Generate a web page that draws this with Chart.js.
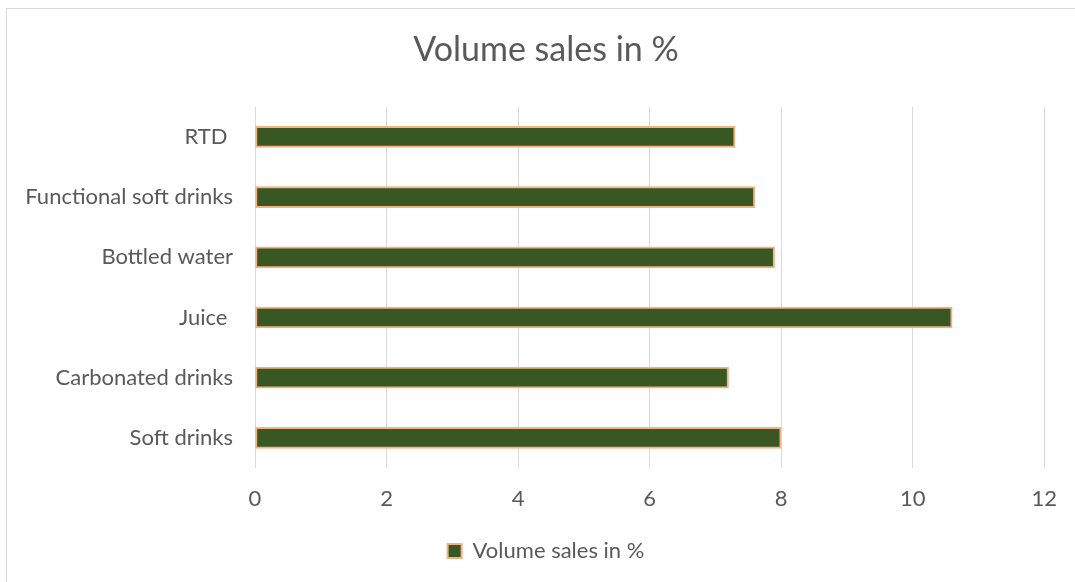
<!DOCTYPE html>
<html>
<head>
<meta charset="utf-8">
<script src="https://cdn.jsdelivr.net/npm/chart.js@4"></script>
<style>
  html, body { margin: 0; padding: 0; background: #fff; }
  #wrap { position: relative; width: 1075px; height: 582px; overflow: hidden; }
  #frame { position: absolute; left: 6px; top: 8px; width: 1200px; height: 700px; border: 1px solid #d9d9d9; box-sizing: border-box; }
  canvas { position: absolute; left: 0; top: 0; }
</style>
</head>
<body>
<div id="wrap">
  <div id="frame"></div>
  <canvas id="chart" width="1075" height="582"></canvas>
</div>
<script>
// Beverage categories, top to bottom
const categories = ['RTD ', 'Functional soft drinks', 'Bottled water', 'Juice ', 'Carbonated drinks', 'Soft drinks'];
// Volume sales share per category (%)
const volumeSales = [7.3, 7.6, 7.9, 10.6, 7.2, 8.0];
const seriesName = 'Volume sales in %';
const xTicks = [0, 2, 4, 6, 8, 10, 12];

const textColor = '#595959';
const gridColor = '#d9d9d9';
const fontFamily = 'Lato, Carlito, Calibri, sans-serif';

new Chart(document.getElementById('chart'), {
  type: 'bar',
  data: {
    labels: categories,
    datasets: [{
      label: seriesName,
      data: volumeSales,
      backgroundColor: '#385723',
      borderColor: '#f4b183',
      borderWidth: 2,
      borderSkipped: false,
      barThickness: 21
    }]
  },
  options: {
    indexAxis: 'y',
    responsive: false,
    animation: false,
    layout: { padding: { left: 45, right: 28, top: 0, bottom: 10 } },
    plugins: {
      title: {
        display: true,
        text: seriesName,
        color: textColor,
        font: { family: fontFamily, size: 34, weight: 'normal' },
        padding: { top: 30, bottom: 36 }
      },
      legend: {
        position: 'bottom',
        labels: {
          color: textColor,
          font: { family: fontFamily, size: 22 },
          boxWidth: 14,
          boxHeight: 14,
          padding: 10
        }
      },
      tooltip: { enabled: false }
    },
    scales: {
      x: {
        min: 0,
        max: 12,
        afterBuildTicks: (scale) => { scale.ticks = xTicks.map(v => ({ value: v })); },
        afterFit: (scale) => { scale.height = 62; },
        grid: { color: gridColor, lineWidth: 1, drawTicks: false },
        border: { display: false },
        ticks: {
          color: textColor,
          font: { family: fontFamily, size: 22 },
          padding: 18
        }
      },
      y: {
        afterFit: (scale) => {
          scale.width = 210;
          // let the long category names extend past the axis box
          scale._computeLabelArea = () => undefined;
        },
        grid: { display: false, drawTicks: false },
        border: { display: false },
        ticks: {
          color: textColor,
          font: { family: fontFamily, size: 22 },
          padding: 22
        }
      }
    }
  }
});
</script>
</body>
</html>
